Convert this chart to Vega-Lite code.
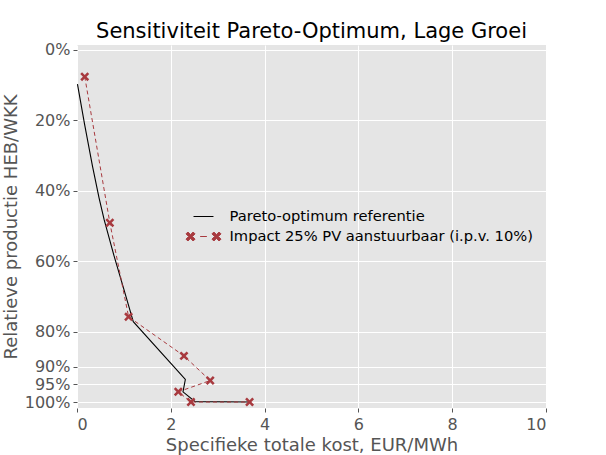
{
  "$schema": "https://vega.github.io/schema/vega-lite/v6.json",
  "autosize": "none",
  "width": 469,
  "height": 363,
  "padding": {"left": 77, "top": 45, "right": 60, "bottom": 47},
  "background": "white",
  "title": {"text": "Sensitiviteit Pareto-Optimum, Lage Groei", "font": "DejaVu Sans", "fontSize": 21, "fontWeight": "normal", "color": "black", "offset": 0},
  "config": {
    "view": {"fill": "#E5E5E5", "stroke": null},
    "axis": {"labelFont": "DejaVu Sans", "titleFont": "DejaVu Sans", "labelColor": "#555555", "titleColor": "#555555", "labelFontSize": 16, "titleFontSize": 18, "titleFontWeight": "normal", "gridColor": "white", "gridWidth": 1, "gridOpacity": 1, "domain": false, "tickColor": "#555555", "tickSize": 4}
  },
  "data": {"values": [
    {"series": "Pareto-optimum referentie", "i": 0, "x": 0.01, "y": 0.097},
    {"series": "Pareto-optimum referentie", "i": 1, "x": 0.16, "y": 0.21},
    {"series": "Pareto-optimum referentie", "i": 2, "x": 0.33, "y": 0.33},
    {"series": "Pareto-optimum referentie", "i": 3, "x": 0.47, "y": 0.42},
    {"series": "Pareto-optimum referentie", "i": 4, "x": 0.58, "y": 0.483},
    {"series": "Pareto-optimum referentie", "i": 5, "x": 0.79, "y": 0.585},
    {"series": "Pareto-optimum referentie", "i": 6, "x": 1.0, "y": 0.68},
    {"series": "Pareto-optimum referentie", "i": 7, "x": 1.2, "y": 0.772},
    {"series": "Pareto-optimum referentie", "i": 8, "x": 2.31, "y": 0.936},
    {"series": "Pareto-optimum referentie", "i": 9, "x": 2.26, "y": 0.971},
    {"series": "Pareto-optimum referentie", "i": 10, "x": 2.52, "y": 0.999},
    {"series": "Pareto-optimum referentie", "i": 11, "x": 3.68, "y": 1.0},
    {"series": "Impact 25% PV aanstuurbaar (i.p.v. 10%)", "i": 0, "x": 0.165, "y": 0.076},
    {"series": "Impact 25% PV aanstuurbaar (i.p.v. 10%)", "i": 1, "x": 0.70, "y": 0.491},
    {"series": "Impact 25% PV aanstuurbaar (i.p.v. 10%)", "i": 2, "x": 1.10, "y": 0.758},
    {"series": "Impact 25% PV aanstuurbaar (i.p.v. 10%)", "i": 3, "x": 2.28, "y": 0.869},
    {"series": "Impact 25% PV aanstuurbaar (i.p.v. 10%)", "i": 4, "x": 2.84, "y": 0.939},
    {"series": "Impact 25% PV aanstuurbaar (i.p.v. 10%)", "i": 5, "x": 2.16, "y": 0.971},
    {"series": "Impact 25% PV aanstuurbaar (i.p.v. 10%)", "i": 6, "x": 2.43, "y": 1.0},
    {"series": "Impact 25% PV aanstuurbaar (i.p.v. 10%)", "i": 7, "x": 3.68, "y": 1.0}
  ]},
  "encoding": {
    "x": {"field": "x", "type": "quantitative", "scale": {"domain": [0, 10], "nice": false, "zero": false}, "axis": {"values": [0, 2, 4, 6, 8, 10], "title": "Specifieke totale kost, EUR/MWh", "titlePadding": 4, "labelPadding": 4}},
    "y": {"field": "y", "type": "quantitative", "scale": {"domain": [-0.014, 1.017], "nice": false, "zero": false, "reverse": true}, "axis": {"values": [0, 0.2, 0.4, 0.6, 0.8, 0.9, 0.95, 1.0], "format": ".0%", "title": "Relatieve productie HEB/WKK", "titlePadding": 4, "labelPadding": 3}},
    "order": {"field": "i", "type": "quantitative"},
    "color": {"field": "series", "type": "nominal", "scale": {"domain": ["Pareto-optimum referentie", "Impact 25% PV aanstuurbaar (i.p.v. 10%)"], "range": ["black", "#a83a3f"]},
      "legend": {"title": null, "orient": "none", "legendX": 118.5, "legendY": 163.5, "padding": 0, "labelFont": "DejaVu Sans", "labelFontSize": 14.7, "labelColor": "black", "labelLimit": 500, "symbolSize": 225, "rowPadding": 5, "labelOffset": 18,
        "encode": {"symbols": {"update": {
          "shape": {"signal": "datum.value === 'Pareto-optimum referentie' ? 'M-1.33,0L1.33,0' : 'M-2.33,-0.35L-2.08,-0.6L-1.73,-0.25L-1.38,-0.6L-1.13,-0.35L-1.48,0L-1.13,0.35L-1.38,0.6L-1.73,0.25L-2.08,0.6L-2.33,0.35L-1.98,0ZM-0.45,0L0.45,0M1.13,-0.35L1.38,-0.6L1.73,-0.25L2.08,-0.6L2.33,-0.35L1.98,0L2.33,0.35L2.08,0.6L1.73,0.25L1.38,0.6L1.13,0.35L1.48,0Z'"},
          "fill": {"signal": "datum.value === 'Pareto-optimum referentie' ? 'transparent' : '#a83a3f'"},
          "stroke": {"signal": "datum.value === 'Pareto-optimum referentie' ? 'black' : '#a83a3f'"},
          "strokeWidth": {"value": 1},
          "strokeDash": {"value": []},
          "opacity": {"value": 1}
        }}}}}
  },
  "layer": [
    {"transform": [{"filter": "datum.series === 'Pareto-optimum referentie'"}], "mark": {"type": "line", "strokeWidth": 1.1}},
    {"transform": [{"filter": "datum.series !== 'Pareto-optimum referentie'"}], "mark": {"type": "line", "strokeWidth": 1, "strokeDash": [4, 3]}},
    {"transform": [{"filter": "datum.series !== 'Pareto-optimum referentie'"}], "mark": {"type": "point", "filled": true, "opacity": 1, "size": 80, "shape": "M-1,-0.6L-0.6,-1L0,-0.4L0.6,-1L1,-0.6L0.4,0L1,0.6L0.6,1L0,0.4L-0.6,1L-1,0.6L-0.4,0Z"}}
  ]
}
